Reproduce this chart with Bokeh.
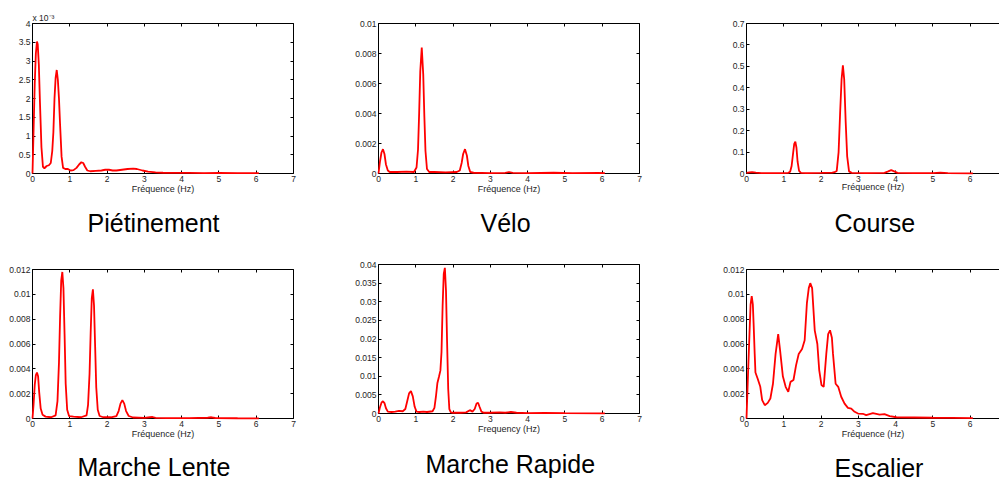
from bokeh.plotting import figure
from bokeh.models import Range1d, FixedTicker, LinearAxis, Title, Label, CustomJSTickFormatter
from bokeh.layouts import row, column
from bokeh.embed import file_html
from bokeh.resources import INLINE

FONT = "Liberation Sans"
RED = "#ff0000"
TXT = "#1e1e1e"

# ---------------- data ----------------
x_ticks = [0, 1, 2, 3, 4, 5, 6, 7]

# Piétinement (values in units of 1e-3)
x1 = [0, 0.03, 0.06, 0.09, 0.12, 0.14, 0.17, 0.2, 0.24, 0.28,
      0.32, 0.38, 0.44, 0.49, 0.53, 0.56, 0.59, 0.62, 0.65, 0.68,
      0.71, 0.74, 0.78, 0.82, 0.88, 0.95, 1.02, 1.1, 1.18, 1.25,
      1.31, 1.36, 1.41, 1.47, 1.55, 1.7, 1.85, 1.95, 2.05, 2.15,
      2.25, 2.4, 2.55, 2.7, 2.8, 2.95, 3.1, 3.3, 3.5, 3.8,
      4.2, 4.6, 5.0, 5.5, 6.07]
y1 = [0, 1.2, 2.4, 3.2, 3.52, 3.45, 2.9, 1.9, 0.7, 0.18,
      0.14, 0.2, 0.22, 0.28, 0.6, 1.1, 2.0, 2.55, 2.76, 2.5,
      2.0, 1.3, 0.45, 0.15, 0.12, 0.12, 0.08, 0.09, 0.15, 0.24,
      0.3, 0.28, 0.18, 0.08, 0.06, 0.07, 0.08, 0.1, 0.1, 0.08,
      0.08, 0.1, 0.12, 0.13, 0.12, 0.08, 0.05, 0.03, 0.02, 0.015,
      0.015, 0.012, 0.015, 0.01, 0.008]
y1_ticks = [0, 0.5, 1, 1.5, 2, 2.5, 3, 3.5, 4]

# Vélo
x2 = [0, 0.04, 0.08, 0.12, 0.16, 0.2, 0.25, 0.3, 0.5, 0.75,
      0.95, 1.02, 1.06, 1.09, 1.12, 1.16, 1.2, 1.23, 1.26, 1.3,
      1.36, 1.5, 1.8, 2.1, 2.18, 2.23, 2.27, 2.32, 2.37, 2.41,
      2.46, 2.55, 3.0, 3.4, 3.5, 3.6, 4.0, 4.7, 5.2, 5.9,
      6.07]
y2 = [0, 0.0008, 0.0014, 0.00162, 0.0013, 0.0006, 0.0002, 0.0001, 0.0001, 0.00012,
      0.0001, 0.0004, 0.0016, 0.004, 0.0068, 0.0084, 0.0066, 0.0038, 0.0015, 0.0003,
      0.0001, 0.0001, 0.00008, 0.0001, 0.0002, 0.0007, 0.0013, 0.00162, 0.0012, 0.0005,
      0.0001, 0.00005, 0.00003, 0.00004, 0.0001, 0.00004, 0.00003, 0.00005, 0.00002, 0.00004,
      0.00002]
y2_ticks = [0, 0.002, 0.004, 0.006, 0.008, 0.01]

# Course
x3 = [0, 0.08, 0.15, 0.25, 0.4, 0.7, 1.0, 1.12, 1.17, 1.21,
      1.25, 1.28, 1.31, 1.34, 1.37, 1.41, 1.46, 1.6, 2.0, 2.3,
      2.36, 2.42, 2.47, 2.51, 2.55, 2.585, 2.62, 2.66, 2.7, 2.75,
      2.82, 3.2, 3.7, 3.8, 3.88, 3.96, 4.05, 4.5, 5.0, 5.2,
      5.4, 6.07]
y3 = [0.003, 0.005, 0.006, 0.004, 0.002, 0.002, 0.002, 0.003, 0.008, 0.035,
      0.095, 0.138, 0.148, 0.12, 0.055, 0.012, 0.003, 0.002, 0.003, 0.004,
      0.006, 0.012, 0.1, 0.28, 0.44, 0.505, 0.44, 0.24, 0.08, 0.01,
      0.003, 0.002, 0.003, 0.01, 0.016, 0.01, 0.003, 0.002, 0.002, 0.004,
      0.002, 0.001]
y3_ticks = [0, 0.1, 0.2, 0.3, 0.4, 0.5, 0.6, 0.7]

# Marche Lente
x4 = [0, 0.03, 0.06, 0.09, 0.12, 0.15, 0.18, 0.22, 0.27, 0.35,
      0.5, 0.62, 0.67, 0.71, 0.74, 0.77, 0.8, 0.83, 0.86, 0.89,
      0.93, 0.98, 1.1, 1.3, 1.45, 1.49, 1.53, 1.56, 1.59, 1.62,
      1.65, 1.68, 1.71, 1.75, 1.8, 1.9, 2.1, 2.25, 2.31, 2.36,
      2.41, 2.46, 2.51, 2.58, 2.7, 3.0, 3.15, 3.22, 3.3, 3.6,
      4.2, 4.7, 4.8, 4.9, 5.5, 6.07]
y4 = [0, 0.0012, 0.0027, 0.0035, 0.0037, 0.0034, 0.0021, 0.0008, 0.0003, 0.00015,
      0.0001, 0.00025, 0.0014, 0.0045, 0.0082, 0.0111, 0.0118, 0.0105, 0.0068, 0.0028,
      0.0007, 0.0002, 0.00015, 0.0001, 0.00025, 0.0011, 0.0036, 0.0069, 0.0097, 0.0104,
      0.0091, 0.0058, 0.0025, 0.0007, 0.0002, 0.0001, 0.0001, 0.0002, 0.0006, 0.0012,
      0.00148, 0.0012, 0.0006, 0.0002, 0.00008, 0.00005, 0.0001, 0.00012, 0.00005, 0.00003,
      0.00003, 0.00006, 0.0001, 0.00004, 0.00002, 0.00001]
y4_ticks = [0, 0.002, 0.004, 0.006, 0.008, 0.01, 0.012]

# Marche Rapide
x5 = [0, 0.04, 0.08, 0.12, 0.16, 0.2, 0.25, 0.35, 0.45, 0.55,
      0.65, 0.72, 0.77, 0.82, 0.87, 0.92, 0.97, 1.02, 1.1, 1.2,
      1.3, 1.45, 1.5, 1.54, 1.58, 1.62, 1.66, 1.69, 1.72, 1.75,
      1.78, 1.81, 1.84, 1.87, 1.9, 1.94, 2.0, 2.2, 2.35, 2.45,
      2.52, 2.58, 2.63, 2.67, 2.71, 2.76, 2.82, 3.0, 3.25, 3.4,
      3.55, 3.7, 4.0, 4.45, 5.0, 6.07]
y5 = [0, 0.0017, 0.0029, 0.0033, 0.0028, 0.0014, 0.0005, 0.0004, 0.0005, 0.0007,
      0.0006, 0.0012, 0.0033, 0.0054, 0.006, 0.0046, 0.0018, 0.0005, 0.0004, 0.0005,
      0.0004, 0.0006, 0.0015, 0.0045, 0.0082, 0.0098, 0.0115, 0.0165, 0.029, 0.0375,
      0.0391, 0.033, 0.019, 0.0065, 0.0012, 0.0003, 0.0002, 0.0002, 0.0003, 0.0009,
      0.0005, 0.0012, 0.0027, 0.0029, 0.0018, 0.0005, 0.0002, 0.0002, 0.0003, 0.0002,
      0.0004, 0.0002, 0.0001, 0.00015, 0.0001, 0.00005]
y5_ticks = [0, 0.005, 0.01, 0.015, 0.02, 0.025, 0.03, 0.035, 0.04]

# Escalier
x6 = [0, 0.04, 0.08, 0.11, 0.14, 0.17, 0.19, 0.22, 0.24, 0.3,
      0.37, 0.42, 0.49, 0.57, 0.64, 0.71, 0.78, 0.85, 0.9, 0.975,
      1.05, 1.12, 1.18, 1.26, 1.33, 1.4, 1.49, 1.56, 1.62, 1.67,
      1.71, 1.76, 1.83, 1.9, 1.95, 2.01, 2.07, 2.14, 2.19, 2.24,
      2.29, 2.32, 2.39, 2.46, 2.54, 2.63, 2.72, 2.81, 2.9, 2.99,
      3.12, 3.21, 3.39, 3.57, 3.7, 3.84, 4.02, 4.5, 5.0, 5.5,
      6.07]
y6 = [0, 0.0035, 0.0068, 0.0092, 0.00985, 0.0092, 0.0077, 0.0052, 0.0037, 0.0032,
      0.00255, 0.00148, 0.00107, 0.00126, 0.00161, 0.0028, 0.0052, 0.0068, 0.0055, 0.0034,
      0.00255, 0.00215, 0.00295, 0.0031, 0.0043, 0.0052, 0.0056, 0.0063, 0.0093, 0.0105,
      0.0109, 0.0105, 0.0071, 0.006, 0.0039, 0.0027, 0.00255, 0.0052, 0.0068, 0.0071,
      0.0065, 0.0052, 0.0028, 0.00255, 0.00175, 0.0012, 0.00086, 0.0008, 0.00054, 0.0004,
      0.00038, 0.00027, 0.00043, 0.00032, 0.00035, 0.00019, 0.0001, 0.00008, 0.00006, 0.00005,
      0.00003]
y6_ticks = [0, 0.002, 0.004, 0.006, 0.008, 0.01, 0.012]

titles = ["Piétinement", "Vélo", "Course", "Marche Lente", "Marche Rapide", "Escalier"]
xlabels = ["Fréquence (Hz)", "Fréquence (Hz)", "Fréquence (Hz)",
           "Fréquence (Hz)", "Frequency (Hz)", "Fréquence (Hz)"]
exponent_text = "x 10\u207b\u00b3"


def num_fmt():
    return CustomJSTickFormatter(code="return String(Number(tick.toPrecision(6)));")


def blank_fmt():
    return CustomJSTickFormatter(code="return '';")


def style_axis(ax):
    ax.axis_line_color = "black"
    ax.axis_line_width = 1
    ax.major_tick_line_color = "black"
    ax.major_tick_in = 3
    ax.major_tick_out = 0
    ax.minor_tick_line_color = None
    ax.major_label_text_font = FONT
    ax.major_label_text_font_size = "8.5px"
    ax.major_label_text_color = TXT
    ax.major_label_standoff = 2
    ax.axis_label_text_font = FONT
    ax.axis_label_text_font_size = "9px"
    ax.axis_label_text_font_style = "normal"
    ax.axis_label_text_color = TXT


def panel(x, y, ymax, yticks, xlabel, width, bl, br, bt, fh, bb, xmax, has_right, xl_standoff):
    p = figure(width=width, height=bt + fh + bb,
               x_range=Range1d(0, xmax), y_range=Range1d(0, ymax),
               output_backend="svg", toolbar_location=None,
               min_border_left=bl, min_border_right=br,
               min_border_top=bt, min_border_bottom=bb)
    p.outline_line_color = None
    p.xgrid.visible = False
    p.ygrid.visible = False
    p.background_fill_color = "white"
    p.border_fill_color = "white"

    xa = p.xaxis[0]
    ya = p.yaxis[0]
    xa.ticker = FixedTicker(ticks=x_ticks)
    ya.ticker = FixedTicker(ticks=yticks)
    xa.formatter = num_fmt()
    ya.formatter = num_fmt()
    xa.axis_label = xlabel
    style_axis(xa)
    style_axis(ya)
    xa.axis_label_standoff = xl_standoff

    top = LinearAxis(ticker=FixedTicker(ticks=x_ticks), formatter=blank_fmt())
    style_axis(top)
    top.major_label_standoff = 0
    top.major_label_text_font_size = "0px"
    p.add_layout(top, "above")
    if has_right:
        rt = LinearAxis(ticker=FixedTicker(ticks=yticks), formatter=blank_fmt())
        style_axis(rt)
        rt.major_label_standoff = 0
        rt.major_label_text_font_size = "0px"
        p.add_layout(rt, "right")

    r = p.line(x, y, line_color=RED, line_width=1.8)
    r.level = "overlay"
    return p


def title_fig(width, height, text, tx, ty):
    t = figure(width=width, height=height, x_axis_type=None, y_axis_type=None,
               output_backend="svg", toolbar_location=None, min_border=0)
    t.outline_line_color = None
    t.background_fill_color = "white"
    t.border_fill_color = "white"
    t.add_layout(Label(x=tx, y=ty, x_units="screen", y_units="screen", text=text,
                       text_align="left", text_baseline="alphabetic",
                       text_font=FONT, text_font_size="25px", text_color="black"))
    return t


XM3 = 6.785

f1 = panel(x1, y1, 4, y1_ticks, xlabels[0], 340, 32, 47, 23, 150, 30, 7, True, -1)
f1.add_layout(Title(text=exponent_text, align="left", standoff=1, text_font=FONT,
                    text_font_size="8.5px", text_font_style="normal",
                    text_color=TXT), "above")
f2 = panel(x2, y2, 0.01, y2_ticks, xlabels[1], 360, 38, 61, 23, 150, 30, 7, True, -1)
f3 = panel(x3, y3, 0.7, y3_ticks, xlabels[2], 299, 46, 0, 23, 150, 30, XM3, False, -3)
f4 = panel(x4, y4, 0.012, y4_ticks, xlabels[3], 340, 32, 47, 29, 149, 30, 7, True, -1)
f5 = panel(x5, y5, 0.04, y5_ticks, xlabels[4], 360, 38, 61, 24, 149, 30, 7, True, -1)
f6 = panel(x6, y6, 0.012, y6_ticks, xlabels[5], 299, 46, 0, 29, 149, 30, XM3, False, -1)

# title text offsets are measured from the aligned plot frame's left edge
t1 = title_fig(340, 37, titles[0], 55, 18)
t2 = title_fig(360, 37, titles[1], 102, 18)
t3 = title_fig(299, 37, titles[2], 88, 18)
t4 = title_fig(340, 32, titles[3], 45, 14)
t5 = title_fig(360, 37, titles[4], 47, 17)
t6 = title_fig(299, 32, titles[5], 88, 13)

layout = row(column(f1, t1, f4, t4), column(f2, t2, f5, t5), column(f3, t3, f6, t6))

open("out.html", "w").write(file_html(layout, INLINE))
